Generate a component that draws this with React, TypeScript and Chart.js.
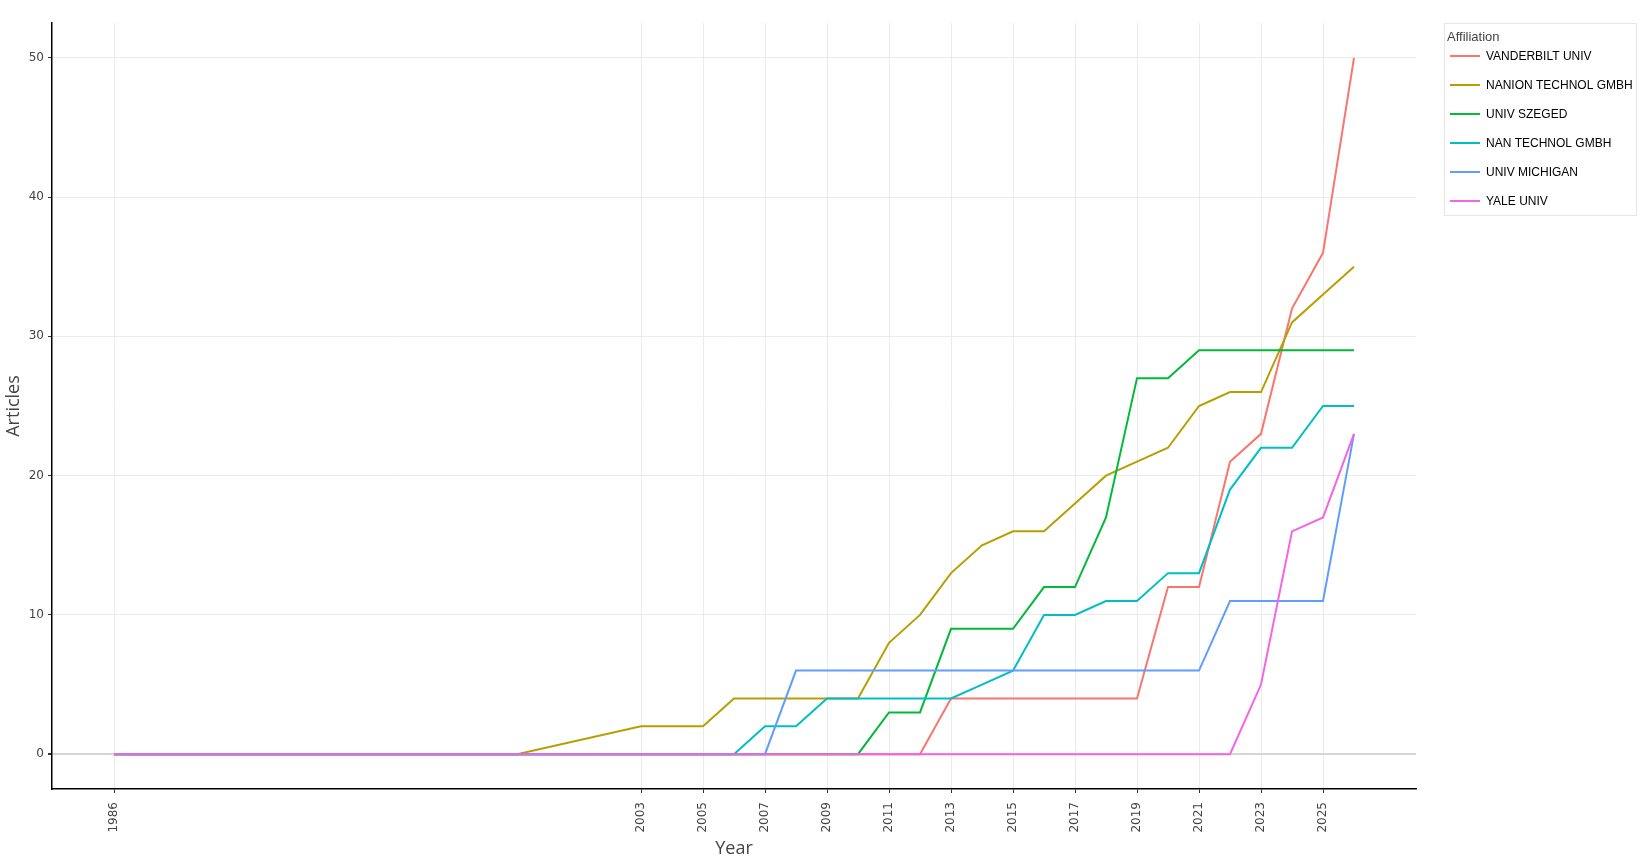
import React, { useEffect, useRef } from "react";
import { Chart, registerables } from "chart.js";
Chart.register(...registerables);

const years = [1986, 1999, 2003, 2005, 2006, 2007, 2008, 2009, 2010, 2011, 2012, 2013, 2014, 2015, 2016, 2017, 2018, 2019, 2020, 2021, 2022, 2023, 2024, 2025, 2026];
const vanderbilt = [0, 0, 0, 0, 0, 0, 0, 0, 0, 0, 0, 4, 4, 4, 4, 4, 4, 4, 12, 12, 21, 23, 32, 36, 50];
const nanion = [0, 0, 2, 2, 4, 4, 4, 4, 4, 8, 10, 13, 15, 16, 16, 18, 20, 21, 22, 25, 26, 26, 31, 33, 35];
const szeged = [0, 0, 0, 0, 0, 0, 0, 0, 0, 3, 3, 9, 9, 9, 12, 12, 17, 27, 27, 29, 29, 29, 29, 29, 29];
const nanTechnol = [0, 0, 0, 0, 0, 2, 2, 4, 4, 4, 4, 4, 5, 6, 10, 10, 11, 11, 13, 13, 19, 22, 22, 25, 25];
const michigan = [0, 0, 0, 0, 0, 0, 6, 6, 6, 6, 6, 6, 6, 6, 6, 6, 6, 6, 6, 6, 11, 11, 11, 11, 23];
const yale = [0, 0, 0, 0, 0, 0, 0, 0, 0, 0, 0, 0, 0, 0, 0, 0, 0, 0, 0, 0, 0, 5, 16, 17, 23];

const seriesNames = ["VANDERBILT UNIV", "NANION TECHNOL GMBH", "UNIV SZEGED", "NAN TECHNOL GMBH", "UNIV MICHIGAN", "YALE UNIV"];
const seriesValues = [vanderbilt, nanion, szeged, nanTechnol, michigan, yale];
const seriesColors = ["#F8766D", "#B79F00", "#00BA38", "#00BFC4", "#619CFF", "#F564E3"];

const xTicks = [1986, 2003, 2005, 2007, 2009, 2011, 2013, 2015, 2017, 2019, 2021, 2023, 2025];
const yTicks = [0, 10, 20, 30, 40, 50];
const legendTitle = "Affiliation";

const legendPlugin = {
  id: "customLegend",
  afterDraw(chart: any) {
    const ctx = chart.ctx;
    ctx.save();
    ctx.strokeStyle = "#e6e6e6";
    ctx.lineWidth = 1;
    ctx.strokeRect(1444.5, 23.5, 192, 192);
    ctx.fillStyle = "#444444";
    ctx.font = "13px 'Liberation Sans', Arial, sans-serif";
    ctx.textBaseline = "middle";
    ctx.textAlign = "left";
    ctx.fillText(legendTitle, 1447, 37);
    ctx.font = "12px 'Liberation Sans', Arial, sans-serif";
    seriesNames.forEach((name, i) => {
      const y = 56 + i * 29;
      ctx.strokeStyle = seriesColors[i];
      ctx.lineWidth = 2;
      ctx.beginPath();
      ctx.moveTo(1450, y);
      ctx.lineTo(1480, y);
      ctx.stroke();
      ctx.fillStyle = "#000000";
      ctx.fillText(name, 1486, y + 0.5);
    });
    ctx.restore();
  },
};

export default function App() {
  const ref = useRef<HTMLCanvasElement | null>(null);
  useEffect(() => {
    if (!ref.current) return;
    const tickFont = { family: "'DejaVu Sans', Verdana, sans-serif", size: 12 };
    const chart = new Chart(ref.current, {
      type: "line",
      data: {
        datasets: seriesNames.map((name, i) => ({
          label: name,
          data: years.map((yr, j) => ({ x: yr, y: seriesValues[i][j] })),
          borderColor: seriesColors[i],
          backgroundColor: seriesColors[i],
          borderWidth: 2,
          pointRadius: 0,
          tension: 0,
          fill: false,
          order: seriesNames.length - i,
        })),
      },
      options: {
        animation: false,
        responsive: true,
        maintainAspectRatio: false,
        events: [],
        layout: { padding: { left: 0, top: 23, right: 234, bottom: 0 } },
        plugins: { legend: { display: false }, tooltip: { enabled: false } },
        scales: {
          x: {
            type: "linear",
            min: 1984,
            max: 2028,
            afterBuildTicks: (s: any) => {
              s.ticks = xTicks.map((v) => ({ value: v }));
            },
            afterFit: (s: any) => {
              s.height = 75;
            },
            grid: { color: "#ebebeb", lineWidth: 1, tickLength: 4, tickColor: "#333333" },
            border: { display: true, color: "#000000", width: 1.5 },
            ticks: {
              autoSkip: false,
              minRotation: 90,
              maxRotation: 90,
              padding: 9,
              color: "#444444",
              font: tickFont,
              callback: (v: any) => String(v),
            },
            title: {
              display: true,
              text: "Year",
              color: "#444444",
              font: { family: "'Open Sans', sans-serif", size: 18 },
              padding: { top: 0, bottom: 4 },
            },
          },
          y: {
            type: "linear",
            min: -2.5,
            max: 52.5,
            afterBuildTicks: (s: any) => {
              s.ticks = yTicks.map((v) => ({ value: v }));
            },
            afterFit: (s: any) => {
              s.width = 52;
            },
            grid: {
              color: (c: any) => (c.tick && c.tick.value === 0 ? "#d6d6d6" : "#ebebeb"),
              lineWidth: (c: any) => (c.tick && c.tick.value === 0 ? 2 : 1),
              tickLength: 4,
              tickColor: "#333333",
            },
            border: { display: true, color: "#000000", width: 1.5 },
            ticks: {
              padding: 4,
              color: "#444444",
              font: tickFont,
              callback: (v: any) => String(v),
            },
            title: {
              display: true,
              text: "Articles",
              color: "#444444",
              font: { family: "'Open Sans', sans-serif", size: 18 },
              padding: { top: 3, bottom: 0 },
            },
          },
        },
      },
      plugins: [legendPlugin],
    } as any);
    return () => chart.destroy();
  }, []);
  return (
    <div style={{ position: "fixed", left: 0, top: 0, width: 1650, height: 864, background: "#ffffff" }}>
      <canvas ref={ref} />
    </div>
  );
}
